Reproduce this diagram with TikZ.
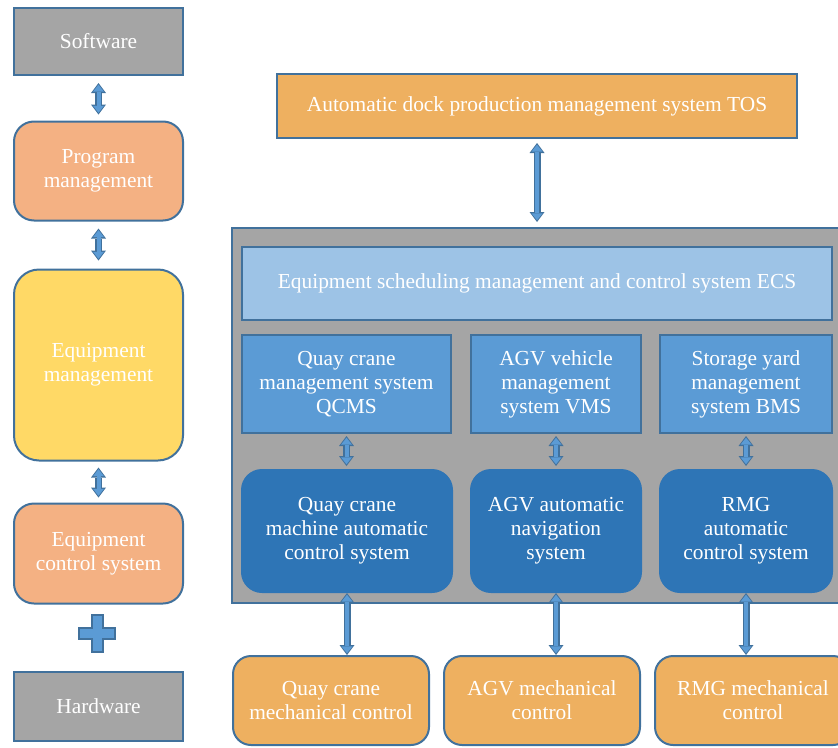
\documentclass[tikz,border=0pt]{standalone}
\usepackage{fontspec}
\setmainfont{Liberation Serif}
\usetikzlibrary{arrows.meta}
\definecolor{outl}{HTML}{41719C}
\definecolor{grayf}{HTML}{A5A5A5}
\definecolor{salmon}{HTML}{F4B183}
\definecolor{yell}{HTML}{FFD966}
\definecolor{orng}{HTML}{EEB060}
\definecolor{lblue}{HTML}{9DC3E6}
\definecolor{mblue}{HTML}{5B9BD5}
\definecolor{dblue}{HTML}{2E75B6}
\tikzset{
  box/.style={draw=outl, line width=2pt, text=white, align=center, outer sep=0pt, inner sep=2pt,
    font=\fontsize{21.4}{24}\selectfont},
  sqbox/.style={box},
  rbox/.style={box, rounded corners=20pt},
  darkbox/.style={box, draw=dblue, fill=dblue, rounded corners=20pt},
  dbl/.style={draw=outl, line width=7pt,
    {Triangle[length=10pt,width=15pt,line width=0pt]}-{Triangle[length=10pt,width=15pt,line width=0pt]},
    postaction={draw=mblue, line width=4pt, shorten <=1.7pt, shorten >=1.7pt,
    {Triangle[length=7pt,width=11pt,line width=0pt]}-{Triangle[length=7pt,width=11pt,line width=0pt]}}}
}
\begin{document}
\begin{tikzpicture}[x=1pt,y=-1pt]
\useasboundingbox (0,0) rectangle (838,747);
\clip (0,0) rectangle (838,747);
% left column
\node[sqbox, fill=grayf, minimum width=169pt, minimum height=67pt] (sw) at (98.5,41.5) {Software};
\node[rbox, fill=salmon, minimum width=169pt, minimum height=99pt] (pm) at (98.5,171) {Program\\management};
\node[rbox, fill=yell, rounded corners=25pt, minimum width=169pt, minimum height=191pt] (em) at (98.5,365) {Equipment\\management};
\node[rbox, fill=salmon, minimum width=169pt, minimum height=100pt] (ec) at (98.5,553.5) {Equipment\\control system};
\node[sqbox, fill=grayf, minimum width=169pt, minimum height=69pt] (hw) at (98.5,706) {Hardware};
\draw[dbl] ([yshift=-8pt]sw.south) -- ([yshift=7pt]pm.north);
\draw[dbl] ([yshift=-8pt]pm.south) -- ([yshift=9pt]em.north);
\draw[dbl] ([yshift=-7pt]em.south) -- ([yshift=6pt]ec.north);
% plus sign
\draw[outl, fill=mblue, line width=1.5pt]
  (92,615) -- (103,615) -- (103,628) -- (115,628) -- (115,639) -- (103,639) -- (103,652)
  -- (92,652) -- (92,639) -- (79,639) -- (79,628) -- (92,628) -- cycle;
% right side
\node[sqbox, fill=orng, minimum width=520pt, minimum height=64pt] (tos) at (537,106) {Automatic dock production management system TOS};
\node[sqbox, fill=grayf, minimum width=614pt, minimum height=375pt] (cont) at (539,415.5) {};
\draw[dbl] ([yshift=-5pt]tos.south) -- ([yshift=6pt]tos.south |- cont.north);
\node[sqbox, fill=lblue, minimum width=590pt, minimum height=73pt] (ecs) at (537,283.5) {Equipment scheduling management and control system ECS};
\node[sqbox, fill=mblue, minimum width=209pt, minimum height=98pt] (qcms) at (346.5,384) {Quay crane\\management system\\QCMS};
\node[sqbox, fill=mblue, minimum width=170pt, minimum height=98pt] (vms) at (556,384) {AGV vehicle\\management\\system VMS};
\node[sqbox, fill=mblue, minimum width=172pt, minimum height=98pt] (bms) at (746,384) {Storage yard\\management\\system BMS};
\node[darkbox, minimum width=210pt, minimum height=122pt] (qcd) at (347,531) {Quay crane\\machine automatic\\control system};
\node[darkbox, minimum width=170pt, minimum height=122pt] (agvd) at (556,531) {AGV automatic\\navigation\\system};
\node[darkbox, minimum width=172pt, minimum height=122pt] (rmgd) at (746,531) {RMG\\automatic\\control system};
\draw[dbl] ([yshift=-3pt]qcms.south) -- ([yshift=4pt]qcms.south |- qcd.north);
\draw[dbl] ([yshift=-3pt]vms.south) -- ([yshift=4pt]vms.south |- agvd.north);
\draw[dbl] ([yshift=-3pt]bms.south) -- ([yshift=4pt]bms.south |- rmgd.north);
\node[rbox, fill=orng, rounded corners=18pt, minimum width=196pt, minimum height=89pt] (qcm) at (331,700.5) {Quay crane\\mechanical control};
\node[rbox, fill=orng, rounded corners=18pt, minimum width=196pt, minimum height=89pt] (agvm) at (542,700.5) {AGV mechanical\\control};
\node[rbox, fill=orng, rounded corners=18pt, minimum width=196pt, minimum height=89pt] (rmgm) at (753,700.5) {RMG mechanical\\control};
\draw[dbl] ([yshift=-1pt]qcd.south) -- ([yshift=1pt]qcd.south |- qcm.north);
\draw[dbl] ([yshift=-1pt]agvd.south) -- ([yshift=1pt]agvd.south |- agvm.north);
\draw[dbl] ([yshift=-1pt]rmgd.south) -- ([yshift=1pt]rmgd.south |- rmgm.north);
\end{tikzpicture}
\end{document}
